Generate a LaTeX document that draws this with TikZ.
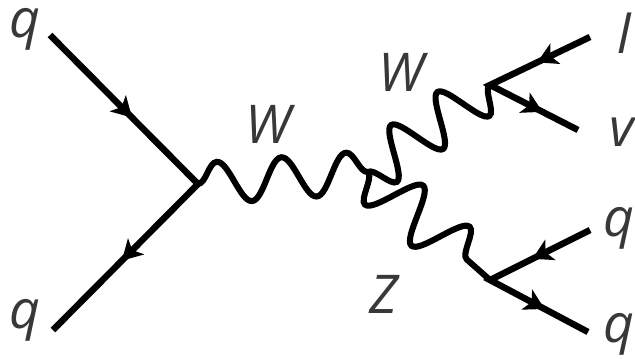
\documentclass[tikz,border=0pt]{standalone}
\usepackage{fontspec}
\setmainfont{Open Sans}
\usetikzlibrary{arrows.meta,decorations.markings,decorations.pathmorphing}
\definecolor{labelgray}{HTML}{383838}

\begin{document}
\begin{tikzpicture}[x=0.025cm, y=-0.025cm,
    fermions/.style 2 args={line width=4.6pt, line join=miter, postaction={decorate},
        decoration={markings,
            mark=at position #1 with {\arrow{Stealth[length=0.5cm, width=0.56cm, inset=0.13cm]}},
            mark=at position #2 with {\arrow{Stealth[length=0.5cm, width=0.56cm, inset=0.13cm]}}}},
    boson/.style 2 args={line width=4.3pt, decorate,
        decoration={snake, amplitude=#1, segment length=#2}},
    lbl/.style={text=labelgray, inner sep=0pt, font=\fontsize{38}{40}\selectfont\itshape}]
    \useasboundingbox (0,0) rectangle (635,358);

    % Vertices and outer ends
    \coordinate (v1) at (198,184);
    \coordinate (v2) at (368,172);
    \coordinate (v3) at (490,85);
    \coordinate (v4) at (490,280);
    \coordinate (qin) at (50,35);
    \coordinate (qout) at (53,330);
    \coordinate (lep) at (590,37);
    \coordinate (nu) at (578,130);
    \coordinate (qzin) at (590,230);
    \coordinate (qzout) at (588,332);

    % Bosons
    \draw[boson={0.52cm}{1.62cm}] (v1) -- (v2);
    \draw[boson={-0.62cm}{1.42cm}] (v2) -- (v3);
    \draw[boson={-0.66cm}{1.55cm}] (v2) -- (v4);

    % Fermions
    \draw[fermions={0.28}{0.765}] (qin) -- (v1) -- (qout);
    \draw[fermions={0.28}{0.81}] (lep) -- (v3) -- (nu);
    \draw[fermions={0.29}{0.78}] (qzin) -- (v4) -- (qzout);

    % Labels
    \node[lbl] (lqin) at (25,29) {q};
    \node[lbl] (lqout) at (25,320) {q};
    \node[lbl] (lw1) at (268,124) {W};
    \node[lbl] (lw2) at (401,72) {W};
    \node[lbl] (lz) at (384,294) {Z};
    \node[lbl] (ll) at (624,33) {l};
    \node[lbl] (lnu) at (622,132) {v};
    \node[lbl] (lqzin) at (619,228) {q};
    \node[lbl] (lqzout) at (619,334) {q};
\end{tikzpicture}
\end{document}
